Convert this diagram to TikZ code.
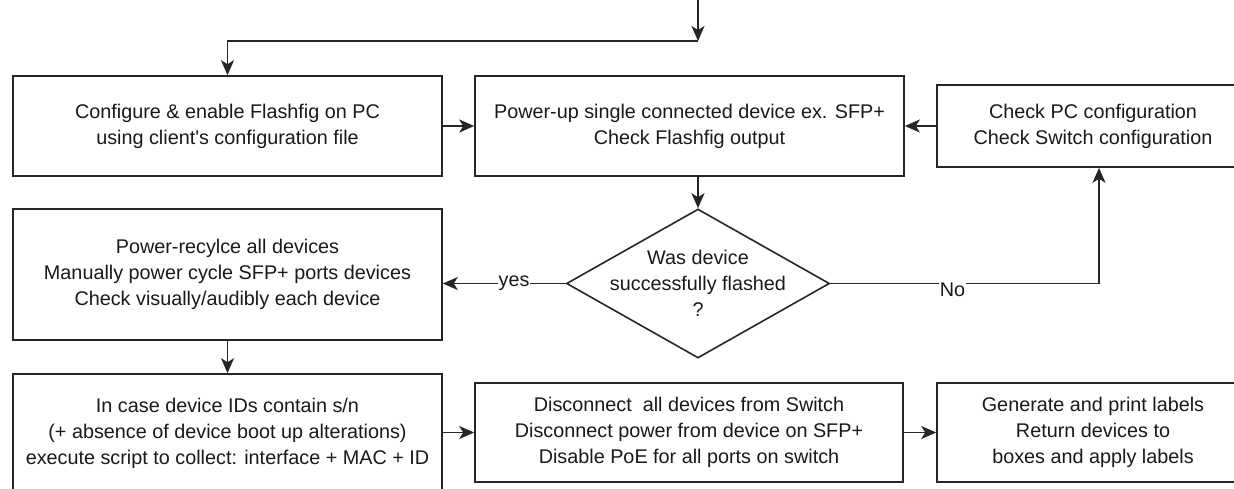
\documentclass[tikz,border=0pt]{standalone}
\usepackage{fontspec}
\newfontfamily\arialf{Liberation Sans}
\usetikzlibrary{arrows.meta,shapes.geometric}
\tikzset{
  txt/.style={font=\arialf\fontsize{19.8}{26}\selectfont, text=black!90},
  box/.style={txt, draw=black!85, line width=1.6pt, align=center, inner sep=0pt},
  conn/.style={draw=black!85, line width=1.6pt, -{Stealth[length=15pt,width=13pt,inset=4pt]}},
  plain/.style={draw=black!85, line width=1.6pt},
  edgelabel/.style={txt, fill=white, inner sep=1pt}
}
\begin{document}
\begin{tikzpicture}[x=1pt,y=-1pt]
\useasboundingbox (0,0) rectangle (1234,488);
\clip (0,0) rectangle (1234,488);

% boxes
\node[box, minimum width=429pt, minimum height=100pt] (b1) at (227.5,126)
  {Configure \& enable Flashfig on PC\\using client's configuration file};
\node[box, minimum width=429pt, minimum height=100pt] (b2) at (689.5,126)
  {Power-up single connected device ex. SFP+\\Check Flashfig output};
\node[box, minimum width=312pt, minimum height=82pt] (b3) at (1093,126)
  {Check PC configuration\\Check Switch configuration};
\node[box, minimum width=429pt, minimum height=131pt] (b4) at (227.5,274.5)
  {Power-recylce all devices\\Manually power cycle SFP+ ports devices\\Check visually/audibly each device};
\node[box, minimum width=429pt, minimum height=118pt] (b5) at (227.5,433)
  {In case device IDs contain s/n\\(+ absence of device boot up alterations)\\execute script to collect: interface + MAC + ID};
\node[box, minimum width=428pt, minimum height=99pt] (b6) at (689,432.5)
  {Disconnect\ \ all devices from Switch\\Disconnect power from device on SFP+\\Disable PoE for all ports on switch};
\node[box, minimum width=312pt, minimum height=99pt] (b7) at (1093,432.5)
  {Generate and print labels\\Return devices to\\boxes and apply labels};

% decision
\node[diamond, draw=black!85, line width=1.6pt, minimum width=263pt, minimum height=149pt, inner sep=0pt,
  label={[txt, align=center]center:Was device\\successfully flashed\\?}] (d) at (698,283.5) {};

% connectors
\coordinate (top) at (698,0);
\coordinate (j) at (698,41);
\coordinate (nocorner) at (1099,283.5);
\draw[conn] (top) -- (j);
\draw[conn] (j) -| (b1.north);
\draw[conn] (b1) -- (b2);
\draw[conn] (b3) -- (b2);
\draw[conn] (d.north |- b2.south) -- (d.north);
\draw[conn] (d.west) -- node[edgelabel, pos=0.42] {yes} (d.west -| b4.east);
\draw[plain] (d.east) -- node[edgelabel, pos=0.455, yshift=-6pt] {No} (nocorner);
\draw[conn] (nocorner) -- (nocorner |- b3.south);
\draw[conn] (b4) -- (b5);
\draw[conn] (b5.east |- b6.west) -- (b6.west);
\draw[conn] (b6) -- (b7);
\end{tikzpicture}
\end{document}
